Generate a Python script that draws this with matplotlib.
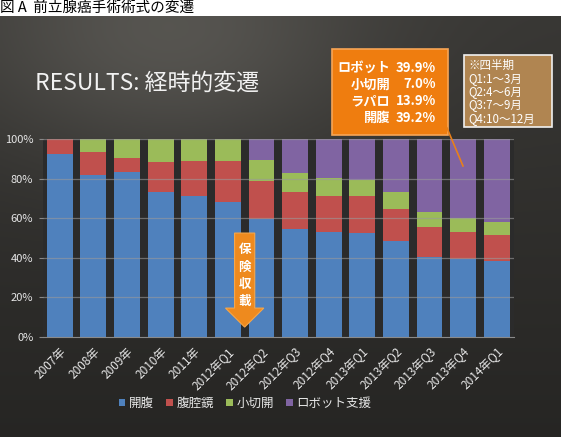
import numpy as np
import matplotlib
matplotlib.use("Agg")
import matplotlib.pyplot as plt
from matplotlib.patches import Rectangle, Patch, Polygon
from matplotlib.lines import Line2D

plt.rcParams['font.family'] = ['Noto Sans CJK JP', 'DejaVu Sans']

# data
categories = ['2007年', '2008年', '2009年', '2010年', '2011年', '2012年Q1', '2012年Q2',
              '2012年Q3', '2012年Q4', '2013年Q1', '2013年Q2', '2013年Q3', '2013年Q4', '2014年Q1']
open_surgery = [92.2, 81.6, 83.3, 73.4, 71.0, 68.1, 59.4, 54.5, 53.1, 52.6, 48.6, 40.5, 39.2, 38.3]
laparoscopic = [7.8, 11.7, 6.9, 15.0, 17.9, 20.8, 19.5, 18.7, 18.2, 18.7, 16.2, 15.3, 13.9, 13.1]
mini_incision = [0, 6.7, 9.8, 11.6, 11.1, 11.1, 10.5, 9.4, 9.1, 8.0, 8.2, 7.3, 7.0, 6.6]
robot = [0, 0, 0, 0, 0, 0, 10.6, 17.4, 19.6, 20.7, 27.0, 36.9, 39.9, 42.0]

series_names = ['開腹', '腹腔鏡', '小切開', 'ロボット支援']
series_colors = ['#4F81BD', '#C0504D', '#9BBB59', '#8064A2']
yticks = [0, 20, 40, 60, 80, 100]

box_labels = ['ロボット', '小切開', 'ラパロ', '開腹']
box_values = ['39.9%', '7.0%', '13.9%', '39.2%']
note_lines = ['※四半期', 'Q1:1～3月', 'Q2:4～6月', 'Q3:7～9月', 'Q4:10～12月']

W, H = 561, 437


def fx(x):
    return x / W


def fy(y):
    return 1 - y / H


fig = plt.figure(figsize=(W / 100, H / 100), dpi=100)
fig.patch.set_facecolor('white')

# dark slide background with a soft lighter patch near the top left
bg = fig.add_axes([0, 0, 1, fy(16)])
bg.set_axis_off()
gx, gy = np.meshgrid(np.linspace(0, 1, 200), np.linspace(0, 1, 150))
glow = np.exp(-(((gx - 0.3) / 0.35) ** 2 + ((gy - 0.05) / 0.3) ** 2))
shade = 0.22 - 0.07 * gy + 0.12 * glow
rgb = np.dstack([shade, shade * 0.98, shade * 0.93])
bg.imshow(rgb, aspect='auto', extent=[0, 1, 1, 0])
bg.set_xlim(0, 1)
bg.set_ylim(1, 0)

fig.text(fx(0), fy(1), '図 A  前立腺癌手術術式の変遷', fontsize=10.5, color='black',
         va='top', ha='left')

fig.text(fx(35), fy(83), 'RESULTS: 経時的変遷', fontsize=16.5, color='#f2f2f2',
         va='center', ha='left')

ax = fig.add_axes([fx(43), fy(337), fx(513.5) - fx(43), fy(139) - fy(337)])
ax.set_facecolor('#2b2b2b')
x = np.arange(len(categories))
bottom = np.zeros(len(categories))
for vals, name, col in zip([open_surgery, laparoscopic, mini_incision, robot],
                           series_names, series_colors):
    ax.bar(x, vals, bottom=bottom, width=0.77, color=col, label=name, zorder=2)
    bottom += np.array(vals)

ax.set_xlim(-0.5, len(categories) - 0.5)
ax.set_ylim(0, 100)
ax.set_yticks(yticks)
ax.set_yticklabels([f'{t}%' for t in yticks], fontsize=8, color='#e6e6e6')
ax.set_xticks(x)
ax.set_xticklabels(categories, rotation=45, ha='right', rotation_mode='anchor',
                   fontsize=8.5, color='#e6e6e6')
ax.tick_params(axis='x', length=0, pad=6)
ax.tick_params(axis='y', length=3, color='#888888', pad=4)
for t in yticks[1:]:
    ax.axhline(t, color='#9a9a9a', lw=0.9, alpha=0.6, zorder=3)
for s in ['top', 'right', 'left']:
    ax.spines[s].set_visible(False)
ax.spines['bottom'].set_color('#8a8a8a')
ax.spines['bottom'].set_zorder(4)

# insurance coverage arrow between 2012年Q1 and 2012年Q2
ax_x = 5.5
arrow = Polygon([[ax_x - 0.3, 52.5], [ax_x + 0.3, 52.5], [ax_x + 0.3, 14.6],
                 [ax_x + 0.57, 14.6], [ax_x, 5], [ax_x - 0.57, 14.6], [ax_x - 0.3, 14.6]],
                closed=True, facecolor='#EE8A1E', edgecolor='#F5A64A', lw=0.8,
                zorder=5, clip_on=False)
ax.add_patch(arrow)
for ch, yy in zip('保険収載', [44.0, 35.3, 26.6, 17.9]):
    ax.text(ax_x, yy, ch, fontsize=9, fontweight='bold', color='white',
            ha='center', va='center', zorder=6)

# orange summary box
fig.patches.append(Rectangle((fx(332), fy(135)), fx(448) - fx(332), fy(49) - fy(135),
                             transform=fig.transFigure, facecolor='#EF7D0F',
                             edgecolor='#F7A556', lw=1.2, zorder=5))
for i, (lab, val) in enumerate(zip(box_labels, box_values)):
    yy = fy(68 + i * 16.5)
    fig.text(fx(390), yy, lab, fontsize=9.5, fontweight='bold', color='white',
             ha='right', va='center', zorder=6)
    fig.text(fx(436), yy, val, fontsize=9.5, fontweight='bold', color='white',
             ha='right', va='center', zorder=6)

# connector from the box to the 2013年Q4 bar
fig.add_artist(Line2D([fx(447), fx(463)], [fy(128), fy(166)], color='#E8801A',
                      lw=1.2, zorder=6))

# quarter note box
fig.patches.append(Rectangle((fx(464), fy(127)), fx(552) - fx(464), fy(55) - fy(127),
                             transform=fig.transFigure, facecolor='#B08551',
                             edgecolor='#f0f0f0', lw=1.2, zorder=5))
for i, line in enumerate(note_lines):
    fig.text(fx(468), fy(65 + i * 13.3), line, fontsize=8.3, color='white',
             ha='left', va='center', zorder=6)

handles = [Patch(facecolor=c, edgecolor='none') for c in series_colors]
fig.legend(handles, series_names, loc='center', bbox_to_anchor=(fx(245), fy(403)),
           ncol=4, frameon=False, fontsize=9, labelcolor='#e6e6e6',
           handlelength=0.5, handleheight=0.5, handletextpad=0.3, columnspacing=1.0)

fig.savefig('out.png', dpi=100, facecolor=fig.get_facecolor())
